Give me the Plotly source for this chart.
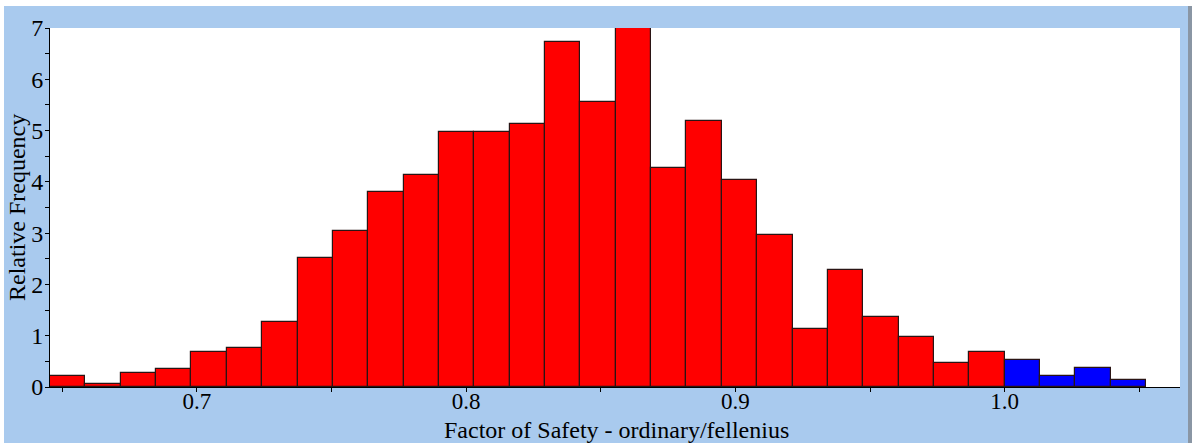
import plotly.graph_objects as go

# ---- data ----
bin_start = 0.6455
bin_width = 0.013129
threshold = 1.0
rel_freq = [0.21, 0.065, 0.28, 0.36, 0.68, 0.76, 1.27, 2.52, 3.04, 3.80,
            4.13, 4.97, 4.97, 5.12, 6.73, 5.56, 7.0, 4.27, 5.19, 4.04,
            2.97, 1.13, 2.29, 1.37, 0.98, 0.46, 0.68,
            0.53, 0.21, 0.365, 0.14]
x_ticks = [0.7, 0.8, 0.9, 1.0]
x_title = "Factor of Safety - ordinary/fellenius"
y_title = "Relative Frequency"

centers = [bin_start + bin_width * (i + 0.5) for i in range(len(rel_freq))]
red_x = [c for c in centers if c < threshold]
red_y = [v for c, v in zip(centers, rel_freq) if c < threshold]
blue_x = [c for c in centers if c >= threshold]
blue_y = [v for c, v in zip(centers, rel_freq) if c >= threshold]

BLUE_BG = "#A9CAEE"
FONT = "Liberation Serif"
outline = dict(color="#2a1414", width=1.2)

fig = go.Figure()
fig.add_trace(go.Bar(x=red_x, y=red_y, width=bin_width,
                     marker=dict(color="#FF0000", line=outline), showlegend=False))
fig.add_trace(go.Bar(x=blue_x, y=blue_y, width=bin_width,
                     marker=dict(color="#0000FF", line=outline), showlegend=False))

W, H = 1192, 443
L, R, T, B = 50, 12, 28, 56
pw, ph = W - L - R, H - T - B

def px_x(p):
    return (p - L) / pw

def px_y(p):
    return (H - B - p) / ph

shapes = [
    dict(type="rect", xref="paper", yref="paper", x0=px_x(0), x1=px_x(W),
         y0=px_y(6), y1=px_y(0), fillcolor="white", line=dict(width=0), layer="below"),
    dict(type="rect", xref="paper", yref="paper", x0=px_x(0), x1=px_x(4),
         y0=px_y(H), y1=px_y(0), fillcolor="white", line=dict(width=0), layer="below"),
    dict(type="rect", xref="paper", yref="paper", x0=px_x(1188), x1=px_x(W),
         y0=px_y(H), y1=px_y(6), fillcolor="#8a96a4", line=dict(width=0), layer="below"),
]

annotations = [
    dict(text=x_title, xref="paper", yref="paper", x=px_x(616), y=px_y(430),
         xanchor="center", yanchor="middle", showarrow=False,
         font=dict(family=FONT, size=24, color="black")),
    dict(text=y_title, xref="paper", yref="paper", x=px_x(17), y=px_y(208),
         xanchor="center", yanchor="middle", textangle=-90, showarrow=False,
         font=dict(family=FONT, size=24, color="black")),
]

fig.update_layout(
    width=W, height=H,
    margin=dict(l=L, r=R, t=T, b=B, pad=0),
    paper_bgcolor=BLUE_BG,
    plot_bgcolor="white",
    bargap=0,
    font=dict(family=FONT, size=24, color="black"),
    shapes=shapes,
    annotations=annotations,
)

fig.update_xaxes(
    range=[0.6455, 1.0651],
    tickvals=x_ticks, tickformat=".1f",
    ticks="outside", ticklen=4, tickwidth=1, tickcolor="black",
    minor=dict(dtick=0.05, tick0=0.65, ticks="outside", ticklen=4, tickcolor="black"),
    showline=True, linecolor="black", linewidth=1,
    showgrid=False, zeroline=False,
    tickfont=dict(family=FONT, size=23),
    ticklabelstandoff=-11,
    automargin=False,
)
fig.update_yaxes(
    range=[0, 7], dtick=1,
    ticks="outside", ticklen=4, tickwidth=1, tickcolor="black",
    minor=dict(dtick=0.5, ticks="outside", ticklen=4, tickcolor="black"),
    showline=True, linecolor="black", linewidth=1,
    showgrid=False, zeroline=False,
    tickfont=dict(family=FONT, size=24),
    ticklabelstandoff=-3,
    automargin=False,
)

fig.write_html("out.html")
